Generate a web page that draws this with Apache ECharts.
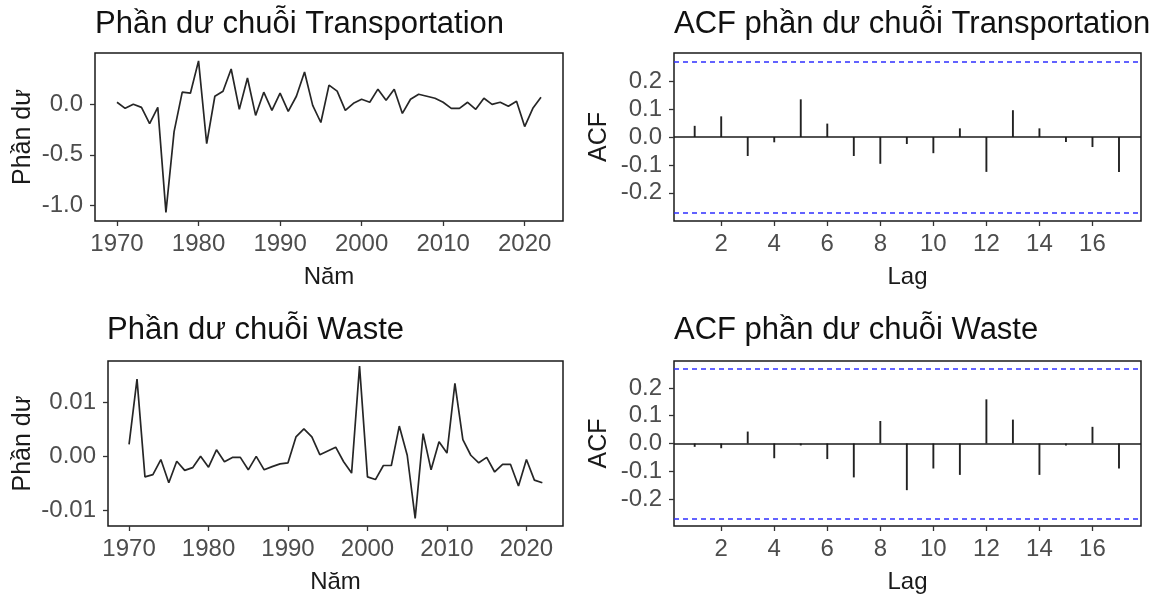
<!DOCTYPE html>
<html>
<head>
<meta charset="utf-8">
<script src="https://cdn.jsdelivr.net/npm/echarts@6/dist/echarts.min.js"></script>
<style>
  html, body { margin: 0; padding: 0; background: #ffffff; }
  #chart { width: 1162px; height: 598px; }
</style>
</head>
<body>
<div id="chart"></div>
<script>
// Years of the residual series
const years = [1970, 1971, 1972, 1973, 1974, 1975, 1976, 1977, 1978, 1979,
  1980, 1981, 1982, 1983, 1984, 1985, 1986, 1987, 1988, 1989,
  1990, 1991, 1992, 1993, 1994, 1995, 1996, 1997, 1998, 1999,
  2000, 2001, 2002, 2003, 2004, 2005, 2006, 2007, 2008, 2009,
  2010, 2011, 2012, 2013, 2014, 2015, 2016, 2017, 2018, 2019,
  2020, 2021, 2022];

// Model residuals, Transportation series
const residTransport = [0.02, -0.04, 0.00, -0.03, -0.19, -0.03, -1.07, -0.27, 0.12, 0.11,
  0.43, -0.39, 0.08, 0.13, 0.35, -0.05, 0.26, -0.11, 0.12, -0.06,
  0.11, -0.07, 0.08, 0.32, -0.01, -0.18, 0.19, 0.13, -0.06, 0.01,
  0.05, 0.02, 0.15, 0.04, 0.15, -0.09, 0.05, 0.10, 0.08, 0.06,
  0.02, -0.04, -0.04, 0.02, -0.05, 0.06, 0.00, 0.02, -0.02, 0.03,
  -0.22, -0.04, 0.07];

// Model residuals, Waste series
const residWaste = [0.0022, 0.0143, -0.0038, -0.0034, -0.0006, -0.0049, -0.0009, -0.0026, -0.0021, 0.0000,
  -0.0020, 0.0012, -0.0010, -0.0002, -0.0002, -0.0025, 0.0000, -0.0025, -0.0019, -0.0014,
  -0.0012, 0.0036, 0.0051, 0.0036, 0.0003, 0.0010, 0.0017, -0.0010, -0.0031, 0.0167,
  -0.0038, -0.0043, -0.0017, -0.0017, 0.0056, 0.0002, -0.0115, 0.0042, -0.0025, 0.0027,
  0.0006, 0.0135, 0.0031, 0.0002, -0.0012, -0.0002, -0.0029, -0.0015, -0.0015, -0.0055,
  -0.0006, -0.0044, -0.0049];

// Autocorrelation of the residuals, lags 1..17
const lags = [1, 2, 3, 4, 5, 6, 7, 8, 9, 10, 11, 12, 13, 14, 15, 16, 17];
const acfTransport = [0.040, 0.074, -0.068, -0.019, 0.135, 0.048, -0.068, -0.096, -0.025,
  -0.058, 0.031, -0.125, 0.096, 0.031, -0.018, -0.036, -0.125];
const acfWaste = [-0.012, -0.017, 0.043, -0.053, -0.007, -0.056, -0.122, 0.081, -0.168,
  -0.090, -0.113, 0.159, 0.086, -0.113, -0.007, 0.060, -0.090];

// 95% significance bound drawn on the ACF panels
const ciBound = 0.272;

// Tick labels
const yearTicks = [1970, 1980, 1990, 2000, 2010, 2020];
const lagTicks = [2, 4, 6, 8, 10, 12, 14, 16];
const transportTicks = [-1.0, -0.5, 0.0];
const wasteTicks = [-0.01, 0.00, 0.01];
const acfTicks = [-0.2, -0.1, 0.0, 0.1, 0.2];

const FONT = '"Liberation Sans", Arial, sans-serif';
const LABEL_COLOR = '#4d4d4d';
const NAME_COLOR = '#1a1a1a';

function pairs(xs, ys) { return xs.map((x, i) => [x, ys[i]]); }

function xAxisDef(gridIndex, min, max, ticks, name) {
  return {
    type: 'value', gridIndex, min, max, position: 'bottom',
    name, nameLocation: 'middle', nameGap: 44,
    nameTextStyle: { fontFamily: FONT, fontSize: 24, color: NAME_COLOR },
    axisLine: { show: false, onZero: false },
    splitLine: { show: false },
    axisTick: { show: true, customValues: ticks, length: 5, inside: false,
      lineStyle: { color: '#333', width: 1.3 } },
    axisLabel: { show: true, customValues: ticks, margin: 11,
      fontFamily: FONT, fontSize: 24, color: LABEL_COLOR,
      formatter: v => String(v) }
  };
}

function yAxisDef(gridIndex, min, max, ticks, digits, name, nameGap) {
  return {
    type: 'value', gridIndex, min, max, position: 'left',
    name, nameLocation: 'middle', nameGap,
    nameTextStyle: { fontFamily: FONT, fontSize: 25, color: NAME_COLOR },
    axisLine: { show: false, onZero: false },
    splitLine: { show: false },
    axisTick: { show: true, customValues: ticks, length: 5,
      lineStyle: { color: '#333', width: 1.3 } },
    axisLabel: { show: true, customValues: ticks, margin: 12,
      fontFamily: FONT, fontSize: 24, color: LABEL_COLOR,
      formatter: v => Number(v).toFixed(digits) }
  };
}

const gridStyle = { show: true, borderColor: '#1a1a1a', borderWidth: 1.5, backgroundColor: 'transparent' };

function titleDef(text, left, top) {
  return { text, left, top, padding: 0,
    textStyle: { fontFamily: FONT, fontSize: 31, fontWeight: 'normal', color: '#111' } };
}

function acfSeries(idx, values) {
  return {
    type: 'bar', xAxisIndex: idx, yAxisIndex: idx,
    data: pairs(lags, values), barWidth: 1.9,
    itemStyle: { color: '#222' },
    silent: true,
    markLine: {
      silent: true, symbol: 'none', label: { show: false },
      data: [
        { yAxis: 0, lineStyle: { color: '#1a1a1a', type: 'solid', width: 1.5 } },
        { yAxis: ciBound, lineStyle: { color: '#2f2fff', type: [5, 4], width: 1.5 } },
        { yAxis: -ciBound, lineStyle: { color: '#2f2fff', type: [5, 4], width: 1.5 } }
      ]
    }
  };
}

function lineSeries(idx, values) {
  return {
    type: 'line', xAxisIndex: idx, yAxisIndex: idx,
    data: pairs(years, values), showSymbol: false, silent: true,
    lineStyle: { color: '#262626', width: 1.7 }
  };
}

const chart = echarts.init(document.getElementById('chart'), null, { renderer: 'canvas' });
chart.setOption({
  animation: false,
  backgroundColor: '#ffffff',
  title: [
    titleDef('Phần dư chuỗi Transportation', 95, 9),
    titleDef('ACF phần dư chuỗi Transportation', 674, 9),
    titleDef('Phần dư chuỗi Waste', 107, 315),
    titleDef('ACF phần dư chuỗi Waste', 674, 315)
  ],
  grid: [
    Object.assign({ left: 95, top: 53, width: 468, height: 168 }, gridStyle),
    Object.assign({ left: 674, top: 53, width: 467, height: 168 }, gridStyle),
    Object.assign({ left: 108, top: 361, width: 455, height: 165 }, gridStyle),
    Object.assign({ left: 674, top: 361, width: 467, height: 165 }, gridStyle)
  ],
  xAxis: [
    xAxisDef(0, 1967.3, 2024.7, yearTicks, 'Năm'),
    xAxisDef(1, 0.22, 17.83, lagTicks, 'Lag'),
    xAxisDef(2, 1967.35, 2024.6, yearTicks, 'Năm'),
    xAxisDef(3, 0.22, 17.83, lagTicks, 'Lag')
  ],
  yAxis: [
    yAxisDef(0, -1.155, 0.508, transportTicks, 1, 'Phần dư', 59),
    yAxisDef(1, -0.301, 0.301, acfTicks, 1, 'ACF', 62),
    yAxisDef(2, -0.0129, 0.01765, wasteTicks, 2, 'Phần dư', 72),
    yAxisDef(3, -0.297, 0.297, acfTicks, 1, 'ACF', 62)
  ],
  series: [
    lineSeries(0, residTransport),
    acfSeries(1, acfTransport),
    lineSeries(2, residWaste),
    acfSeries(3, acfWaste)
  ]
});
</script>
</body>
</html>
